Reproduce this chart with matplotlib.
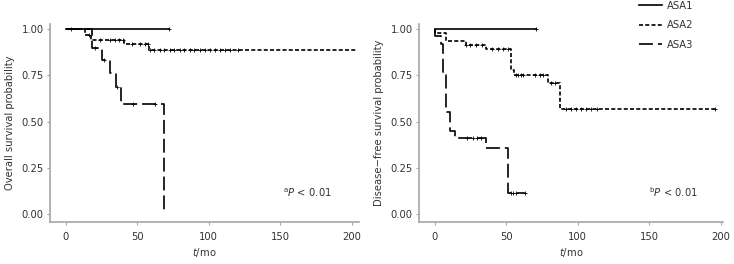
import numpy as np
import matplotlib
matplotlib.use("Agg")
import matplotlib.pyplot as plt
from matplotlib.lines import Line2D

plt.rcParams['lines.scale_dashes'] = False
plt.rcParams['font.family'] = ['DejaVu Sans']

# =========================================================================== #
# overall survival (left panel)
os_asa1_t = [0, 72]
os_asa1_s = [1.0, 1.0]
os_asa1_cens = [3.7, 72]

os_asa2_t = [0, 13.8, 18, 41, 58, 203]
os_asa2_s = [1.0, 0.97, 0.94, 0.92, 0.885, 0.885]
os_asa2_cens = [16.5, 24, 31, 34.5, 37, 40, 46, 52, 55.5, 57.5,
                59, 62, 66, 69, 73, 76, 80, 83, 87, 90, 94, 97,
                101, 104, 108, 111, 115, 120.5]

os_asa3_t = [0, 18.5, 25.6, 31, 35, 38.5, 69, 69]
os_asa3_s = [1.0, 0.90, 0.83, 0.76, 0.685, 0.595, 0.0, 0.0]
os_asa3_cens = [20.5, 27, 36, 47, 62.5]

# disease-free survival (right panel)
dfs_asa1_t = [0, 71]
dfs_asa1_s = [1.0, 1.0]
dfs_asa1_cens = [71]

dfs_asa2_t = [0, 0.5, 8, 22, 35.7, 53.5, 55.3, 79, 87.4, 196]
dfs_asa2_s = [1.0, 0.98, 0.935, 0.915, 0.89, 0.78, 0.75, 0.71, 0.57, 0.57]
dfs_asa2_cens = [22, 24.5, 29, 32.7, 39.7, 44.3, 47.8, 51.3,
                 57, 58.5, 60, 62, 70, 73.5, 75.5, 81, 84,
                 91.5, 95, 98.5, 102, 105.5, 109, 113.5, 196]

dfs_asa3_t = [0, 0, 4.5, 6, 8, 11, 14, 36, 51.5, 63]
dfs_asa3_s = [1.0, 0.96, 0.92, 0.75, 0.55, 0.45, 0.41, 0.355, 0.115, 0.115]
dfs_asa3_cens = [22.5, 27, 29.5, 32, 53, 55, 56.5, 63]

groups = ["ASA1", "ASA2", "ASA3"]
yticks = [0.0, 0.25, 0.50, 0.75, 1.00]
xticks = [0, 50, 100, 150, 200]

styles = {"ASA1": dict(linestyle='-'),
          "ASA2": dict(dashes=(2.9, 1.6)),
          "ASA3": dict(dashes=(10, 3.6))}

gray = '#a6a6a6'
txt = '#333333'
fs = 7.2


# draw one kaplan-meier curve with censor marks
def drawKM(ax, t, s, cens, group):
    t = np.asarray(t, dtype=float)
    s = np.asarray(s, dtype=float)
    ax.step(t, s, where='post', color='black', lw=1.2, **styles[group])
    idx = np.searchsorted(t, cens, side='right') - 1
    ax.plot(cens, s[idx], linestyle='none', marker='+', color='black',
            markersize=3.3, markeredgewidth=0.6)


def styleAxes(ax, ylabel, xmax, note):
    ax.set_xlim(-11, xmax)
    ax.set_ylim(-0.043, 1.027)
    ax.set_xticks(xticks)
    ax.set_yticks(yticks)
    ax.set_yticklabels(["%.2f" % v for v in yticks])
    for side in ['top', 'right']:
        ax.spines[side].set_visible(False)
    for side in ['left', 'bottom']:
        ax.spines[side].set_color(gray)
        ax.spines[side].set_linewidth(1.2)
    ax.tick_params(colors=gray, labelcolor=txt, labelsize=fs, length=2.5,
                   width=0.8, pad=2)
    ax.tick_params(axis='x', pad=4.5)
    ax.set_ylabel(ylabel, fontsize=fs, color=txt, labelpad=5)
    ax.set_xlabel(r'$t$/mo', fontsize=fs, color=txt, labelpad=3)
    ax.text(0.755, 0.125, note + r'$P$ < 0.01', transform=ax.transAxes,
            fontsize=fs, color=txt)


fig = plt.figure(figsize=(7.34, 2.64), dpi=100)
ax1 = fig.add_axes([50 / 734, 42 / 264, 309 / 734, 198 / 264])
ax2 = fig.add_axes([419 / 734, 42 / 264, 304 / 734, 198 / 264])

drawKM(ax1, os_asa1_t, os_asa1_s, os_asa1_cens, "ASA1")
drawKM(ax1, os_asa2_t, os_asa2_s, os_asa2_cens, "ASA2")
drawKM(ax1, os_asa3_t, os_asa3_s, os_asa3_cens, "ASA3")
styleAxes(ax1, "Overall survival probability", 205, r'$^{\mathrm{a}}$')

drawKM(ax2, dfs_asa1_t, dfs_asa1_s, dfs_asa1_cens, "ASA1")
drawKM(ax2, dfs_asa2_t, dfs_asa2_s, dfs_asa2_cens, "ASA2")
drawKM(ax2, dfs_asa3_t, dfs_asa3_s, dfs_asa3_cens, "ASA3")
styleAxes(ax2, "Disease\u2212free survival probability", 201.5,
          r'$^{\mathrm{b}}$')

legend_elements = [Line2D([0], [0], color='black', lw=1.2, **styles[g])
                   for g in groups]
fig.legend(handles=legend_elements, labels=groups, loc='upper left',
           bbox_to_anchor=(639 / 734, 0.997), frameon=False, fontsize=fs,
           borderpad=0, borderaxespad=0, handlelength=2.3,
           handletextpad=0.5, labelspacing=0.95, labelcolor=txt)

fig.savefig("out.png", dpi=100)
